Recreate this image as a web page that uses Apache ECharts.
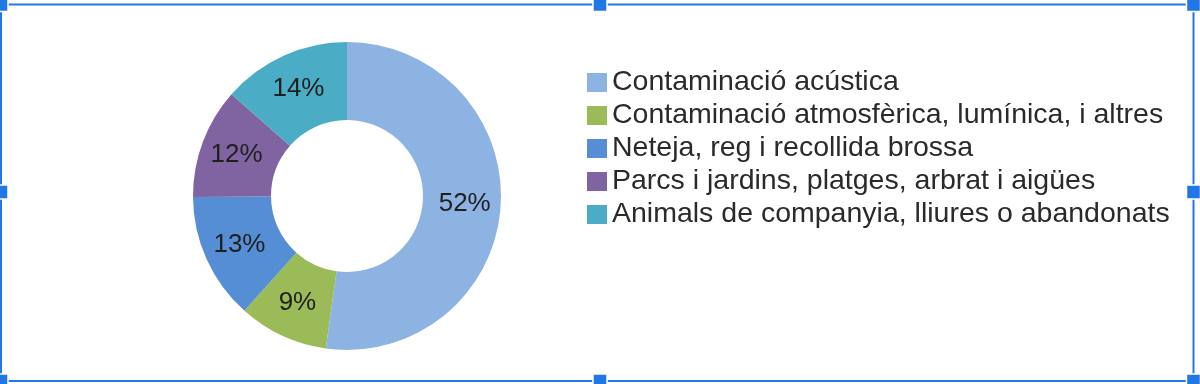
<!DOCTYPE html>
<html>
<head>
<meta charset="utf-8">
<script src="https://cdn.jsdelivr.net/npm/echarts@6/dist/echarts.min.js"></script>
<style>
html,body{margin:0;padding:0;background:#fff;}
#chart{width:1200px;height:384px;}
</style>
</head>
<body>
<div id="chart"></div>
<script>
const categories = [
  "Contaminació acústica",
  "Contaminació atmosfèrica, lumínica, i altres",
  "Neteja, reg i recollida brossa",
  "Parcs i jardins, platges, arbrat i aigües",
  "Animals de companyia, lliures o abandonats"
];
// shares (percent); labels show them rounded
const values = [52.2, 9.4, 13.3, 11.6, 13.5];
const palette = ["#8DB3E2", "#9BBB59", "#558ED5", "#8064A2", "#4BACC6"];

const FONT = '"Liberation Sans", Arial, sans-serif';
const chart = echarts.init(document.getElementById('chart'), null, {renderer: 'canvas'});

const frameColor = '#2277e6';
const hs = 14;
const handlePts = [[1,4.5],[600,4.5],[1193.5,4.5],[1,192],[1193.5,192],[1,381],[600,381],[1193.5,381]];
const handles = handlePts.map(p => ({
  type: 'rect', z: 101,
  shape: {x: p[0]-hs/2, y: p[1]-hs/2, width: hs, height: hs},
  style: {fill: frameColor, stroke: '#ffffff', lineWidth: 1.5}
}));

chart.setOption({
  animation: false,
  color: palette,
  legend: {
    orient: 'vertical',
    left: 582,
    top: 63,
    icon: 'rect',
    itemWidth: 20,
    itemHeight: 19,
    itemGap: 4,
    selectedMode: false,
    textStyle: {fontFamily: FONT, fontSize: 28.5, color: '#2a2a2a', lineHeight: 27},
    data: categories
  },
  series: [{
    type: 'pie',
    center: [347, 196],
    radius: [76, 154],
    startAngle: 90,
    clockwise: true,
    avoidLabelOverlap: false,
    itemStyle: {borderWidth: 0},
    label: {
      show: true,
      position: 'inside',
      formatter: p => Math.round(p.value) + '%',
      fontFamily: FONT,
      fontSize: 26,
      color: '#1f1f1f'
    },
    labelLine: {show: false},
    emphasis: {disabled: true},
    data: categories.map((n, i) => ({name: n, value: values[i]}))
  }],
  graphic: [
    {type: 'rect', z: 100, shape: {x: 1, y: 4.5, width: 1192.5, height: 376.5},
     style: {fill: 'none', stroke: frameColor, lineWidth: 2}},
    ...handles
  ]
});
</script>
</body>
</html>
